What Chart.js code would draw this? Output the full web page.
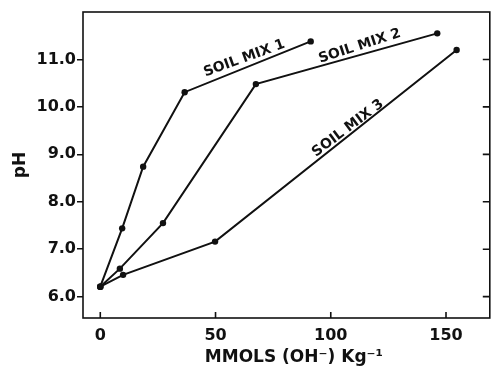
<!DOCTYPE html>
<html>
<head>
<meta charset="utf-8">
<script src="https://cdn.jsdelivr.net/npm/chart.js@4/dist/chart.umd.min.js"></script>
<style>
  html, body { margin: 0; padding: 0; background: #fff; }
  #wrap { width: 493px; height: 367px; }
</style>
</head>
<body>
<div id="wrap"><canvas id="soilChart" width="493" height="367"></canvas></div>
<script>
// titration data (mmol OH- per kg vs pH)
const mix1X = [0, 9.5, 18.6, 36.6, 91.3];
const mix1Y = [6.21, 7.44, 8.74, 10.31, 11.38];
const mix2X = [0, 8.5, 27.2, 67.5, 146.2];
const mix2Y = [6.21, 6.59, 7.55, 10.48, 11.55];
const mix3X = [0, 9.9, 49.8, 154.6];
const mix3Y = [6.21, 6.46, 7.16, 11.2];
const seriesNames = ["SOIL MIX 1", "SOIL MIX 2", "SOIL MIX 3"];
const xTicks = [0, 50, 100, 150];
const yTicks = [6, 7, 8, 9, 10, 11];
const xTitle = "MMOLS (OH\u207B) Kg\u207B\u00B9";

const FONT = "'DejaVu Sans', 'Liberation Sans', Arial, sans-serif";

function toPoints(xs, ys) {
    return xs.map((x, i) => ({ x: x, y: ys[i] }));
}

function lineSet(label, xs, ys) {
    return {
        label: label,
        data: toPoints(xs, ys),
        showLine: true,
        borderColor: "#111",
        backgroundColor: "#111",
        borderWidth: 2,
        pointRadius: 3.2,
        pointBorderWidth: 0,
        pointHoverRadius: 3.2,
        tension: 0,
    };
}

// frame, inward tick marks, x title and the curve labels
const framePlugin = {
    id: "frame",
    afterDatasetsDraw(chart) {
        const { ctx, chartArea: a, scales } = chart;
        ctx.save();
        ctx.strokeStyle = "#111";
        ctx.lineWidth = 1.6;
        ctx.strokeRect(a.left, a.top, a.right - a.left, a.bottom - a.top);
        ctx.beginPath();
        xTicks.forEach((v) => {
            const px = scales.x.getPixelForValue(v);
            ctx.moveTo(px, a.bottom);
            ctx.lineTo(px, a.bottom - 6);
        });
        yTicks.forEach((v) => {
            const py = scales.y.getPixelForValue(v);
            ctx.moveTo(a.right, py);
            ctx.lineTo(a.right - 7, py);
        });
        ctx.stroke();

        ctx.fillStyle = "#111";
        ctx.textAlign = "center";
        ctx.textBaseline = "middle";
        ctx.font = "bold 17px " + FONT;
        ctx.fillText(xTitle, scales.x.getPixelForValue(84), 358);

        const tags = [
            { text: seriesNames[0], x: 62.5, y: 11.02, angle: -20 },
            { text: seriesNames[1], x: 112.6, y: 11.28, angle: -18 },
            { text: seriesNames[2], x: 107.5, y: 9.55, angle: -37 },
        ];
        ctx.font = "bold 14px " + FONT;
        tags.forEach((t) => {
            ctx.save();
            ctx.translate(scales.x.getPixelForValue(t.x), scales.y.getPixelForValue(t.y));
            ctx.rotate((t.angle * Math.PI) / 180);
            ctx.fillText(t.text, 0, 0);
            ctx.restore();
        });
        ctx.restore();
    },
};

new Chart(document.getElementById("soilChart"), {
    type: "scatter",
    data: {
        datasets: [
            lineSet(seriesNames[0], mix1X, mix1Y),
            lineSet(seriesNames[1], mix2X, mix2Y),
            lineSet(seriesNames[2], mix3X, mix3Y),
        ],
    },
    options: {
        responsive: false,
        animation: false,
        layout: { padding: { top: 12, right: 0, left: 0, bottom: 0 } },
        plugins: { legend: { display: false }, tooltip: { enabled: false } },
        scales: {
            x: {
                type: "linear",
                min: -7.5,
                max: 169,
                afterBuildTicks: (s) => { s.ticks = xTicks.map((v) => ({ value: v })); },
                afterFit: (s) => { s.height = 49; },
                grid: { display: true, drawOnChartArea: false, drawTicks: false },
                border: { display: false },
                ticks: {
                    color: "#111",
                    padding: 8,
                    maxRotation: 0,
                    font: { family: FONT, size: 16, weight: "bold" },
                },
            },
            y: {
                type: "linear",
                min: 5.55,
                max: 12.0,
                afterBuildTicks: (s) => { s.ticks = yTicks.map((v) => ({ value: v })); },
                afterFit: (s) => { s.width = 83; },
                grid: {
                    display: true,
                    drawOnChartArea: false,
                    drawTicks: true,
                    tickLength: 6,
                    color: "#111",
                    lineWidth: 1.5,
                },
                border: { display: false },
                ticks: {
                    color: "#111",
                    padding: 1,
                    callback: (v) => v.toFixed(1),
                    font: { family: FONT, size: 16, weight: "bold" },
                },
                title: {
                    display: true,
                    text: "pH",
                    color: "#111",
                    padding: { top: 10, bottom: 0 },
                    font: { family: FONT, size: 17, weight: "bold" },
                },
            },
        },
    },
    plugins: [framePlugin],
});
</script>
</body>
</html>
